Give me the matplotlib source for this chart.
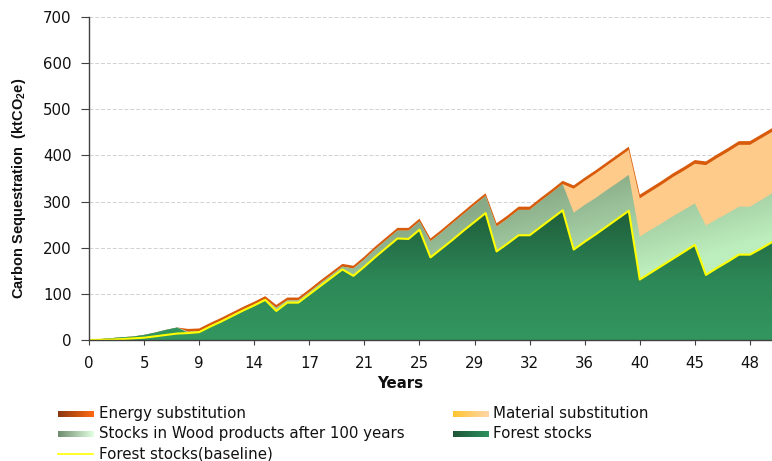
import numpy as np
import matplotlib
matplotlib.use('Agg')
import matplotlib.pyplot as plt
from matplotlib.colors import LinearSegmentedColormap
from matplotlib.lines import Line2D

plt.rcParams['font.family'] = ['DejaVu Sans']
plt.rcParams['mathtext.default'] = 'regular'

# ---------------- data (category index = one data point) ----------------
tick_labels = ['0', '5', '9', '14', '17', '21', '25', '29', '32', '36', '40', '45', '48']

baseline = [0, 0.5, 1, 2, 3.5, 5, 8, 11, 14, 15,
            17, 29, 40, 52, 64, 75, 87, 63, 81, 81,
            99, 117, 135, 153, 139, 159, 180, 200, 220, 219,
            239, 179, 198, 217, 237, 256, 275, 192, 209, 227,
            227, 245, 263, 281, 196, 213, 229, 246, 263, 280,
            131, 146, 161, 176, 191, 206, 141, 156, 170, 185,
            185, 198, 212]

forest = [0, 2, 4, 6, 7.5, 11, 16, 22, 27, 15,
          17, 29, 40, 52, 64, 75, 87, 63, 81, 81,
          99, 117, 135, 153, 139, 159, 180, 200, 220, 219,
          239, 179, 198, 217, 237, 256, 275, 192, 209, 227,
          227, 245, 263, 281, 196, 213, 229, 246, 263, 280,
          131, 146, 161, 176, 191, 206, 141, 156, 170, 185,
          185, 198, 212]

wood = [0, 0, 0, 0, 0, 0, 0, 0, 0, 3,
        2, 2, 2, 2, 2, 2, 2, 7, 5, 5,
        5, 6, 6, 6, 16, 16, 17, 17, 17, 18,
        18, 35, 35, 36, 36, 37, 37, 54, 54, 55,
        55, 56, 56, 57, 80, 80, 79, 79, 78, 78,
        93, 93, 92, 92, 91, 90, 107, 106, 105, 104,
        104, 105, 106]

material = [0] * 44 + [52, 52, 53, 53, 54, 54,
                       83, 83, 84, 85, 85, 86,
                       131, 132, 133, 134, 134, 134, 133]

energy = [0] * 9 + [6] * 15 + [6] * 13 + [7] * 13 + [8] * 13

legend_labels = ['Energy substitution', 'Material substitution',
                 'Stocks in Wood products after 100 years', 'Forest stocks',
                 'Forest stocks(baseline)']

# ---------------- figure ----------------
W, H = 772, 461
fig = plt.figure(figsize=(W / 100, H / 100), dpi=100)
ax = fig.add_axes([89 / W, 1 - 340 / H, (772 - 89) / W, (340 - 17) / H])

x = np.arange(len(baseline))
xmax = x[-1]
F = np.array(forest, float)
s1 = F + np.array(wood, float)
s2 = s1 + np.array(material, float)
s3 = s2 + np.array(energy, float)

ax.set_xlim(0, xmax)
ax.set_ylim(0, 700)

for v in range(100, 701, 100):
    ax.axhline(v, color='#D2D2D2', lw=0.7, dashes=(4, 2), zorder=0.5)

# energy band (drawn from 0, covered by lower layers)
ax.fill_between(x, 0, s3, facecolor='#D85A0B', edgecolor='none', zorder=1.0)
# material
ax.fill_between(x, 0, s2, facecolor='#FFCB8B', edgecolor='none', zorder=1.1)

# wood products: diagonal gradient
ny, nx = 400, 320
gx = np.linspace(0, xmax, nx)
gy = np.linspace(0, 700, ny)
GX, GY = np.meshgrid(gx, gy)
sv = GX / 62.0 - GY / 400.0
tw = np.clip((sv + 0.15) / 0.6, 0, 1)
wood_cmap = LinearSegmentedColormap.from_list('w', ['#88AA86', '#BDEEBD'])
wimg = wood_cmap(tw)
cw = ax.fill_between(x, 0, s1, facecolor='none', edgecolor='none', zorder=1.2)
imw = ax.imshow(wimg, extent=[0, xmax, 0, 700], origin='lower', aspect='auto',
                interpolation='bilinear', zorder=1.2)
imw.set_clip_path(cw.get_paths()[0], ax.transData)

# forest stocks: vertical gradient
tf = np.clip(gy / 280.0, 0, 1)
forest_cmap = LinearSegmentedColormap.from_list(
    'f', [(0, '#33965F'), (0.45, '#2D8857'), (1, '#1F5E3B')])
fimg = np.repeat(forest_cmap(tf)[:, None, :], 4, axis=1)
cf = ax.fill_between(x, 0, F, facecolor='none', edgecolor='none', zorder=1.3)
imf = ax.imshow(fimg, extent=[0, xmax, 0, 700], origin='lower', aspect='auto',
                interpolation='bilinear', zorder=1.3)
imf.set_clip_path(cf.get_paths()[0], ax.transData)

# baseline line
ax.plot(x, baseline, color='#FFFF00', lw=1.5, zorder=1.6)

ax.set_xlim(0, xmax)
ax.set_ylim(0, 700)

for side in ['top', 'right']:
    ax.spines[side].set_visible(False)
for side in ['left', 'bottom']:
    ax.spines[side].set_color('#404040')
    ax.spines[side].set_linewidth(1.0)
    ax.spines[side].set_zorder(3)

ax.set_xticks(np.arange(0, 61, 5))
ax.set_xticklabels(tick_labels)
ax.set_yticks(range(0, 701, 100))
ax.tick_params(axis='x', length=3.5, width=0.8, color='#404040', pad=8,
               labelsize=10.8, labelcolor='#111111')
ax.tick_params(axis='y', length=5.5, width=0.8, color='#404040', pad=7,
               labelsize=10.8, labelcolor='#111111')

fig.text(19.5 / W, 1 - 188.5 / H, 'Carbon Sequestration  (ktCO$_2$e)', rotation=90,
         ha='center', va='center', fontsize=10.5, fontweight='bold',
         family=['Liberation Sans', 'DejaVu Sans'], color='#111111')
fig.text(400 / W, 1 - 388 / H, 'Years', ha='center', va='baseline',
         fontsize=10.8, fontweight='bold', color='#111111')

# ---------------- legend ----------------
def swatch(px0, py0, px1, py1, colors):
    a = fig.add_axes([px0 / W, 1 - py1 / H, (px1 - px0) / W, (py1 - py0) / H])
    cm = LinearSegmentedColormap.from_list('s', colors)
    a.imshow(np.linspace(0, 1, 64)[None, :], cmap=cm, aspect='auto',
             extent=[0, 1, 0, 1], interpolation='bilinear')
    a.set_axis_off()

swatch(58, 411, 93, 417, ['#8A3610', '#FF6A10'])
swatch(453, 411, 489, 417, ['#FFC530', '#FFD6A8'])
swatch(58, 431, 93, 437, ['#6E8C6E', '#E2FFE2'])
swatch(453, 431, 489, 437, ['#1E5636', '#2E905E'])
fig.add_artist(Line2D([58 / W, 93 / W], [1 - 454 / H, 1 - 454 / H],
                      color='#FFFF00', lw=1.2, transform=fig.transFigure))

legend_pos = [(99, 418), (493, 418), (99, 438), (493, 438), (99, 458)]
for lab, (px, py) in zip(legend_labels, legend_pos):
    fig.text(px / W, 1 - py / H, lab, ha='left', va='baseline', fontsize=10.8,
             color='#111111')

fig.savefig('out.png', dpi=100)
